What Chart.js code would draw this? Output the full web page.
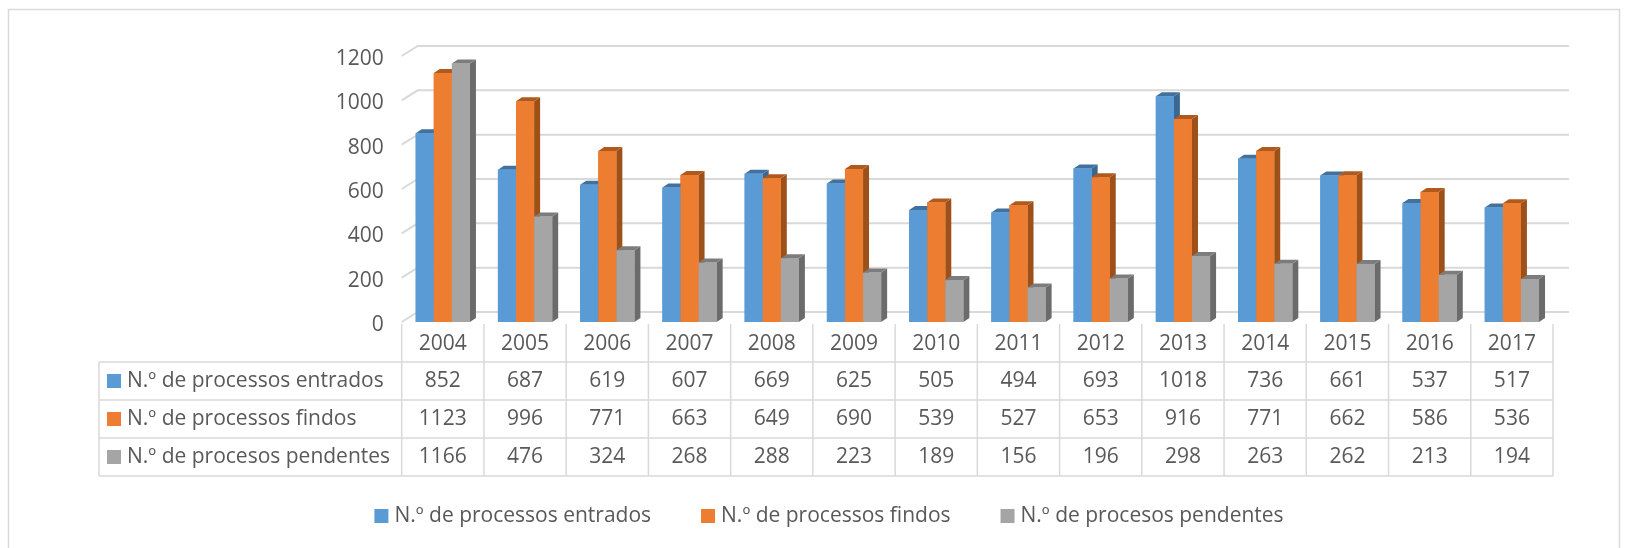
<!DOCTYPE html>
<html>
<head>
<meta charset="utf-8">
<script src="https://cdn.jsdelivr.net/npm/chart.js@4/dist/chart.umd.min.js"></script>
<style>
  html, body { margin: 0; padding: 0; background: #fff; }
  #wrap { width: 1628px; height: 548px; }
</style>
</head>
<body>
<div id="wrap"><canvas id="chart" width="1628" height="548"></canvas></div>
<script>
// --- DATA ---
const years = ['2004', '2005', '2006', '2007', '2008', '2009', '2010', '2011', '2012', '2013', '2014', '2015', '2016', '2017'];
const entrados = [852, 687, 619, 607, 669, 625, 505, 494, 693, 1018, 736, 661, 537, 517];
const findos = [1123, 996, 771, 663, 649, 690, 539, 527, 653, 916, 771, 662, 586, 536];
const pendentes = [1166, 476, 324, 268, 288, 223, 189, 156, 196, 298, 263, 262, 213, 194];
const seriesNames = ['N.º de processos entrados', 'N.º de processos findos', 'N.º de procesos pendentes'];
const yTicks = [0, 200, 400, 600, 800, 1000, 1200];

// colours: front, top, side
const fronts = ['#5b9bd5', '#ed7d31', '#a5a5a5'];
const tops = ['#41719c', '#b0591f', '#7c7c7c'];
const sides = ['#3b6791', '#9e5019', '#6b6b6b'];

const FONT = '"Open Sans", "Liberation Sans", sans-serif';
const TEXT = '#595959';
const LINE = '#d9d9d9';

// wall offset and bar depth
const WALL_DX = 16, WALL_DY = -10;
const BAR_DX = 6, BAR_DY = -4;

// --- 3D look: back wall gridlines + bar sides ---
const excel3d = {
    id: 'excel3d',
    beforeDatasetsDraw(chart) {
        const ctx = chart.ctx;
        const y = chart.scales.y;
        const area = chart.chartArea;
        ctx.save();
        ctx.strokeStyle = LINE;
        ctx.lineWidth = 2;
        yTicks.forEach(v => {
            const py = y.getPixelForValue(v);
            ctx.beginPath();
            ctx.moveTo(area.left, py);
            ctx.lineTo(area.left + WALL_DX, py + WALL_DY);
            ctx.lineTo(area.right + WALL_DX, py + WALL_DY);
            ctx.stroke();
        });
        ctx.restore();
    },
    afterDatasetsDraw(chart) {
        const ctx = chart.ctx;
        ctx.save();
        for (let i = 0; i < years.length; i++) {
            chart.data.datasets.forEach((ds, d) => {
                const el = chart.getDatasetMeta(d).data[i];
                const p = el.getProps(['x', 'y', 'base', 'width'], true);
                const l = p.x - p.width / 2, r = p.x + p.width / 2;
                // side
                ctx.fillStyle = sides[d];
                ctx.beginPath();
                ctx.moveTo(r, p.y);
                ctx.lineTo(r + BAR_DX, p.y + BAR_DY);
                ctx.lineTo(r + BAR_DX, p.base + BAR_DY);
                ctx.lineTo(r, p.base);
                ctx.closePath();
                ctx.fill();
                // top
                ctx.fillStyle = tops[d];
                ctx.beginPath();
                ctx.moveTo(l, p.y);
                ctx.lineTo(l + BAR_DX, p.y + BAR_DY);
                ctx.lineTo(r + BAR_DX, p.y + BAR_DY);
                ctx.lineTo(r, p.y);
                ctx.closePath();
                ctx.fill();
                // front again on top
                ctx.fillStyle = fronts[d];
                ctx.fillRect(l, p.y, p.width, p.base - p.y);
            });
        }
        ctx.restore();
    },
    afterDraw(chart) {
        const ctx = chart.ctx;
        const x = chart.scales.x;
        const area = chart.chartArea;
        const catW = (area.right - area.left) / years.length;
        const tableLeft = 99;
        const headTop = 324, rowTop = 362, rowH = 38;
        const tableBottom = rowTop + rowH * 3;
        const rows = [entrados, findos, pendentes];

        ctx.save();
        // outer frame (left, top, right)
        ctx.strokeStyle = LINE;
        ctx.lineWidth = 1.5;
        ctx.beginPath();
        ctx.moveTo(8.5, 548);
        ctx.lineTo(8.5, 9.5);
        ctx.lineTo(1619.5, 9.5);
        ctx.lineTo(1619.5, 548);
        ctx.stroke();

        // table grid
        ctx.beginPath();
        for (let i = 0; i <= years.length; i++) {
            const bx = area.left + i * catW;
            ctx.moveTo(bx, headTop);
            ctx.lineTo(bx, tableBottom);
        }
        ctx.moveTo(tableLeft, rowTop);
        ctx.lineTo(tableLeft, tableBottom);
        for (let r = 0; r <= 3; r++) {
            const ry = rowTop + r * rowH;
            ctx.moveTo(tableLeft, ry);
            ctx.lineTo(area.right, ry);
        }
        ctx.stroke();

        // header and values
        ctx.fillStyle = TEXT;
        ctx.font = '21px ' + FONT;
        ctx.textAlign = 'center';
        ctx.textBaseline = 'middle';
        years.forEach((yr, i) => {
            const cx = x.getPixelForValue(i);
            ctx.fillText(yr, cx, 344);
            rows.forEach((vals, r) => {
                ctx.fillText(String(vals[i]), cx, rowTop + r * rowH + rowH / 2);
            });
        });

        // row labels with keys
        ctx.textAlign = 'left';
        seriesNames.forEach((name, r) => {
            const cy = rowTop + r * rowH + rowH / 2;
            ctx.fillStyle = fronts[r];
            ctx.fillRect(107, cy - 7, 14, 14);
            ctx.fillStyle = TEXT;
            ctx.fillText(name, 127, cy);
        });

        // legend at the bottom
        const gap = 50, box = 14, pad = 6;
        const widths = seriesNames.map(n => ctx.measureText(n).width);
        const total = widths.reduce((a, w) => a + box + pad + w, 0) + gap * (seriesNames.length - 1);
        let lx = 829 - total / 2;
        const ly = 516;
        seriesNames.forEach((name, r) => {
            ctx.fillStyle = fronts[r];
            ctx.fillRect(lx, ly - 7, box, box);
            ctx.fillStyle = TEXT;
            ctx.fillText(name, lx + box + pad, ly);
            lx += box + pad + widths[r] + gap;
        });
        ctx.restore();
    }
};

function build() {
    new Chart(document.getElementById('chart'), {
        type: 'bar',
        data: {
            labels: years,
            datasets: [entrados, findos, pendentes].map((vals, d) => ({
                label: seriesNames[d],
                data: vals,
                backgroundColor: fronts[d],
                borderWidth: 0,
                categoryPercentage: 0.66,
                barPercentage: 1
            }))
        },
        options: {
            responsive: false,
            animation: false,
            devicePixelRatio: 1,
            layout: { padding: { left: 0, top: 56, right: 75, bottom: 226 } },
            plugins: {
                legend: { display: false },
                tooltip: { enabled: false }
            },
            scales: {
                x: { display: false },
                y: {
                    min: 0,
                    max: 1200,
                    afterFit(scale) { scale.width = 401.7; },
                    afterBuildTicks(scale) { scale.ticks = yTicks.map(v => ({ value: v })); },
                    grid: { display: false, drawTicks: false },
                    border: { display: false },
                    ticks: {
                        padding: 18,
                        labelOffset: 3,
                        color: TEXT,
                        font: { family: FONT, size: 21 },
                        callback: v => String(v)
                    }
                }
            }
        },
        plugins: [excel3d]
    });
}

if (document.fonts && document.fonts.load) {
    document.fonts.load('21px "Open Sans"').then(build, build);
} else {
    build();
}
</script>
</body>
</html>
